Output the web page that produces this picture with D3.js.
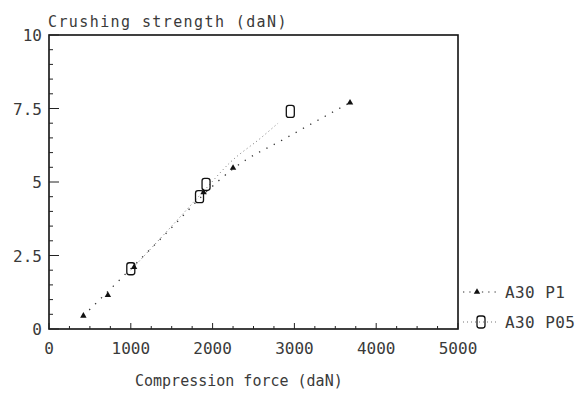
<!DOCTYPE html>
<html>
<head>
<meta charset="utf-8">
<script src="https://cdn.jsdelivr.net/npm/d3@7"></script>
<style>
  body { margin: 0; background: #fff; }
  text { font-family: "DejaVu Sans Mono", monospace; fill: #3a3a3a; }
</style>
</head>
<body>
<div class="container"></div>
<script>
// series (force daN, strength daN)
var p1Points = [[420, 0.45], [720, 1.15], [1040, 2.1], [1890, 4.65], [2250, 5.48], [3680, 7.7]];
var p05Points = [[1000, 2.05], [1840, 4.5], [1920, 4.92], [2950, 7.4]];
// dotted fit curves
var p1Fit = [[420, 0.45], [1000, 2.05], [1500, 3.45], [1900, 4.6], [2250, 5.45], [2900, 6.5], [3680, 7.7]];
var p05Fit = [[1000, 2.0], [1500, 3.5], [1900, 4.72], [2220, 5.68], [2590, 6.5], [2800, 7.0]];
var xTicks = [0, 1000, 2000, 3000, 4000, 5000];
var yTicks = [0, 2.5, 5, 7.5, 10];
var legendNames = ['A30 P1', 'A30 P05'];

var w = 579, h = 397;
var svg = d3.select('.container').append('svg')
  .attr('width', w).attr('height', h);

var xScale = d3.scaleLinear().domain([0, 5000]).range([49, 458]);
var yScale = d3.scaleLinear().domain([0, 10]).range([329, 35]);

/* frame */
svg.append('rect')
  .attr('x', xScale(0)).attr('y', yScale(10))
  .attr('width', xScale(5000) - xScale(0))
  .attr('height', yScale(0) - yScale(10))
  .attr('fill', 'none').attr('stroke', '#111').attr('stroke-width', 1.6);

/* ticks, pointing inward */
var xMinor = d3.range(0, 5001, 250);
svg.selectAll('.xt').data(xMinor).enter().append('line')
  .attr('x1', function(d) { return xScale(d); })
  .attr('x2', function(d) { return xScale(d); })
  .attr('y1', yScale(0))
  .attr('y2', function(d) { return yScale(0) - (d % 1000 == 0 ? 6 : 3); })
  .attr('stroke', '#222').attr('stroke-width', 1);

var yMinor = d3.range(0, 10.01, 0.5);
svg.selectAll('.yt').data(yMinor).enter().append('line')
  .attr('y1', function(d) { return yScale(d); })
  .attr('y2', function(d) { return yScale(d); })
  .attr('x1', xScale(0))
  .attr('x2', function(d) { return xScale(0) + (d % 2.5 == 0 ? 10 : 4); })
  .attr('stroke', '#222').attr('stroke-width', 1);

/* tick labels */
svg.selectAll('.xl').data(xTicks).enter().append('text')
  .attr('x', function(d) { return xScale(d); })
  .attr('y', 354)
  .attr('text-anchor', 'middle')
  .style('font-size', '16px')
  .text(function(d) { return d; });

svg.selectAll('.yl').data(yTicks).enter().append('text')
  .attr('x', 42)
  .attr('y', function(d) { return yScale(d) + 6; })
  .attr('text-anchor', 'end')
  .style('font-size', '16px')
  .text(function(d) { return d; });

/* titles */
svg.append('text').attr('x', 48).attr('y', 27)
  .style('font-size', '15px').style('letter-spacing', '1.4px')
  .text('Crushing strength (daN)');
svg.append('text').attr('x', 135).attr('y', 386)
  .style('font-size', '15px')
  .text('Compression force (daN)');

/* fit lines */
var line = d3.line()
  .x(function(d) { return xScale(d[0]); })
  .y(function(d) { return yScale(d[1]); })
  .curve(d3.curveMonotoneX);

svg.append('path').attr('d', line(p1Fit))
  .attr('fill', 'none').attr('stroke', '#333').attr('stroke-width', 1.3)
  .attr('stroke-dasharray', '1.3,7');
svg.append('path').attr('d', line(p05Fit))
  .attr('fill', 'none').attr('stroke', '#777').attr('stroke-width', 1)
  .attr('stroke-dasharray', '1,3');

/* markers */
var tri = d3.symbol().type(d3.symbolTriangle).size(18);
function drawP1(sel) {
  sel.append('path').attr('d', tri).attr('fill', '#111');
}
function drawP05(sel) {
  sel.append('rect').attr('x', -4).attr('y', -6).attr('width', 8).attr('height', 12)
    .attr('rx', 2.5).attr('fill', 'none').attr('stroke', '#111').attr('stroke-width', 1.3);
}

svg.selectAll('.p1').data(p1Points).enter().append('g')
  .attr('transform', function(d) { return 'translate(' + xScale(d[0]) + ',' + yScale(d[1]) + ')'; })
  .call(drawP1);
svg.selectAll('.p05').data(p05Points).enter().append('g')
  .attr('transform', function(d) { return 'translate(' + xScale(d[0]) + ',' + yScale(d[1]) + ')'; })
  .call(drawP05);

/* legend */
var legY = [292, 322];
legendNames.forEach(function(name, i) {
  var g = svg.append('g').attr('transform', 'translate(0,' + legY[i] + ')');
  g.append('line').attr('x1', 463).attr('x2', 496).attr('y1', 0).attr('y2', 0)
    .attr('stroke', i == 0 ? '#333' : '#777').attr('stroke-width', 1.2)
    .attr('stroke-dasharray', i == 0 ? '1.3,5' : '1,3');
  var m = g.append('g').attr('transform', 'translate(' + (i == 0 ? 477 : 481) + ',0)');
  if (i == 0) drawP1(m); else drawP05(m);
  g.append('text').attr('x', 505).attr('y', 6)
    .style('font-size', '16px').style('letter-spacing', '0.4px')
    .text(name);
});
</script>
</body>
</html>
